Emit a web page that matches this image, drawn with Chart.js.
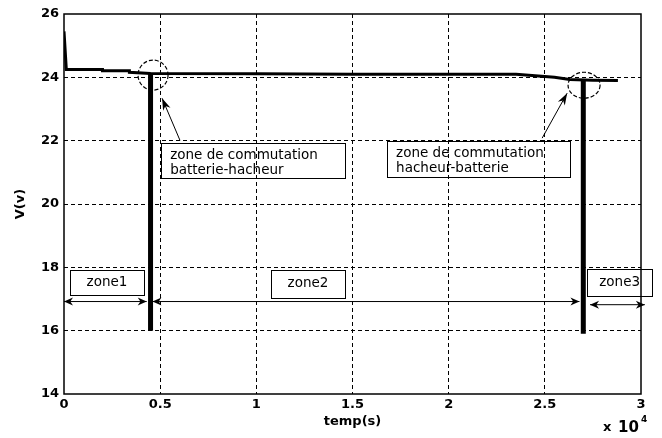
<!DOCTYPE html>
<html><head><meta charset="utf-8">
<script src="https://cdn.jsdelivr.net/npm/chart.js@4"></script>
<style>html,body{margin:0;padding:0;background:#fff}</style>
</head><body>
<canvas id="c" width="662" height="438"></canvas>
<script>
// ---- data ----
const timeX    = [0, 0.012, 0.2, 0.2, 0.34, 0.34, 0.45, 1.0, 1.5, 2.0, 2.35, 2.45, 2.55, 2.63, 2.75, 2.88];
const voltageV = [25.45, 24.25, 24.25, 24.21, 24.21, 24.16, 24.12, 24.11, 24.1, 24.1, 24.1, 24.05, 24.0, 23.93, 23.91, 23.9];

const switchTimes  = [0.45, 2.70];
const switchTop    = [24.12, 23.9];
const switchBottom = [16.0, 15.9];

const zoneNames = ['zone1', 'zone2', 'zone3'];
const zoneStart = [0, 0.46, 2.735];
const zoneEnd   = [0.43, 2.68, 3.02];
const zoneLevel = [16.92, 16.92, 16.82];

const xTicks = [0, 0.5, 1, 1.5, 2, 2.5, 3];
const yTicks = [14, 16, 18, 20, 22, 24, 26];

const noteLinesA = ['zone de commutation', 'batterie-hacheur'];
const noteLinesB = ['zone de commutation', 'hacheur-batterie'];

// annotation anchors (data coordinates)
const circleX = [0.463, 2.704];
const circleY = [24.07, 23.75];
const arrowFromX = [0.603, 2.486];
const arrowFromY = [22.01, 22.08];
const arrowToX   = [0.51, 2.616];
const arrowToY   = [23.34, 23.5];
const noteBoxX0 = [0.505, 1.68];
const noteBoxX1 = [1.461, 2.631];
const noteBoxY0 = [21.92, 21.98];
const noteBoxY1 = [20.81, 20.84];
const zoneBoxX0 = [0.031, 1.076, 2.72];
const zoneBoxX1 = [0.416, 1.461, 3.058];
const zoneBoxY0 = [17.93, 17.93, 17.96];
const zoneBoxY1 = [17.14, 17.04, 17.11];

// ---- datasets ----
const pts = (xs, ys) => xs.map((v, i) => ({x: v, y: ys[i]}));
const datasets = [
  {data: pts(timeX, voltageV), borderColor: '#000', borderWidth: 3, pointRadius: 0, tension: 0}
];
switchTimes.forEach((t, i) => datasets.push({
  data: [{x: t, y: switchTop[i]}, {x: t, y: switchBottom[i]}],
  borderColor: '#000', borderWidth: 5, pointRadius: 0, borderCapStyle: 'butt'
}));
zoneNames.forEach((n, i) => datasets.push({
  data: [{x: zoneStart[i], y: zoneLevel[i]}, {x: zoneEnd[i], y: zoneLevel[i]}],
  borderColor: '#000', borderWidth: 1, pointRadius: 0, clip: false
}));

function head(ctx, x1, y1, x0, y0, len, w) {
  const a = Math.atan2(y1 - y0, x1 - x0);
  const c = Math.cos(a), s = Math.sin(a);
  ctx.beginPath();
  ctx.moveTo(x1, y1);
  ctx.lineTo(x1 - len * c + (w / 2) * s, y1 - len * s - (w / 2) * c);
  ctx.lineTo(x1 - len * 0.7 * c, y1 - len * 0.7 * s);
  ctx.lineTo(x1 - len * c - (w / 2) * s, y1 - len * s + (w / 2) * c);
  ctx.closePath();
  ctx.fill();
}

const overlay = {
  id: 'overlay',
  afterDatasetsDraw(chart) {
    const {ctx, chartArea: a, scales: {x, y}} = chart;
    const px = v => x.getPixelForValue(v), py = v => y.getPixelForValue(v);
    ctx.save();
    ctx.fillStyle = '#000'; ctx.strokeStyle = '#000'; ctx.setLineDash([]);
    // frame
    ctx.lineWidth = 1.5;
    ctx.strokeRect(a.left, a.top, a.right - a.left, a.bottom - a.top);
    // circles
    ctx.lineWidth = 1.2; ctx.setLineDash([4, 2]);
    const rads = [[15, 15], [16, 13]];
    circleX.forEach((cx, i) => {
      ctx.beginPath();
      ctx.ellipse(px(cx), py(circleY[i]), rads[i][0], rads[i][1], 0, 0, Math.PI * 2);
      ctx.stroke();
    });
    ctx.setLineDash([]);
    ctx.lineWidth = 1;
    // pointer arrows
    arrowFromX.forEach((fx, i) => {
      const x0 = px(fx), y0 = py(arrowFromY[i]), x1 = px(arrowToX[i]), y1 = py(arrowToY[i]);
      ctx.beginPath(); ctx.moveTo(x0, y0); ctx.lineTo(x1, y1); ctx.stroke();
      head(ctx, x1, y1, x0, y0, 12, 8);
    });
    // zone arrowheads
    zoneNames.forEach((n, i) => {
      const x0 = px(zoneStart[i]), x1 = px(zoneEnd[i]), yy = py(zoneLevel[i]);
      head(ctx, x0, yy, x0 + 10, yy, 9, 8);
      head(ctx, x1, yy, x1 - 10, yy, 9, 8);
    });
    // note boxes
    ctx.font = '13.5px "DejaVu Sans"';
    ctx.textBaseline = 'middle'; ctx.textAlign = 'left';
    [noteLinesA, noteLinesB].forEach((lines, i) => {
      const bx0 = px(noteBoxX0[i]), bx1 = px(noteBoxX1[i]), by0 = py(noteBoxY0[i]), by1 = py(noteBoxY1[i]);
      ctx.strokeRect(Math.round(bx0) + 0.5, Math.round(by0) + 0.5, Math.round(bx1 - bx0), Math.round(by1 - by0));
      lines.forEach((t, k) => ctx.fillText(t, bx0 + 9, by0 + 12 + k * 15));
    });
    // zone boxes
    ctx.textAlign = 'center';
    zoneNames.forEach((n, i) => {
      const bx0 = px(zoneBoxX0[i]), bx1 = px(zoneBoxX1[i]), by0 = py(zoneBoxY0[i]), by1 = py(zoneBoxY1[i]);
      ctx.strokeRect(Math.round(bx0) + 0.5, Math.round(by0) + 0.5, Math.round(bx1 - bx0), Math.round(by1 - by0));
      ctx.fillText(n, (bx0 + bx1) / 2, (by0 + by1) / 2);
    });
    // exponent label
    ctx.textAlign = 'left';
    ctx.font = 'bold 13px "DejaVu Sans"';
    ctx.fillText('x', 603, 428);
    ctx.font = 'bold 15px "DejaVu Sans"';
    ctx.fillText('10', 618, 428);
    ctx.font = 'bold 9px "DejaVu Sans"';
    ctx.fillText('4', 641, 420);
    ctx.restore();
  }
};

const tickFont = {family: 'DejaVu Sans', weight: 'bold', size: 13};
const edgeColor = (ticks) => (c) => (c.index === 0 || c.index === ticks.length - 1) ? 'rgba(0,0,0,0)' : '#000';

new Chart(document.getElementById('c'), {
  type: 'line',
  data: {datasets},
  options: {
    responsive: false, animation: false, events: [],
    layout: {padding: {top: 14, right: 21, left: 0, bottom: 0}},
    plugins: {legend: {display: false}, tooltip: {enabled: false}},
    scales: {
      x: {
        type: 'linear', min: 0, max: 3,
        afterBuildTicks: s => { s.ticks = xTicks.map(v => ({value: v})); },
        afterFit: s => { s.height = 44; s.paddingLeft = 0; s.paddingRight = 0; s.paddingTop = 0; s.paddingBottom = 0; },
        ticks: {font: tickFont, color: '#000', padding: 3, maxRotation: 0, autoSkip: false, callback: v => String(v)},
        grid: {color: edgeColor(xTicks), lineWidth: 1, drawTicks: false},
        border: {display: false, dash: [4, 3]},
        title: {display: true, text: 'temp(s)', color: '#000', font: tickFont, padding: {top: 0, bottom: 9}}
      },
      y: {
        type: 'linear', min: 14, max: 26,
        afterBuildTicks: s => { s.ticks = yTicks.map(v => ({value: v})); },
        afterFit: s => { s.width = 64; s.paddingLeft = 0; s.paddingRight = 0; s.paddingTop = 0; s.paddingBottom = 0; },
        ticks: {font: tickFont, color: '#000', padding: 5, autoSkip: false, callback: v => String(v)},
        grid: {color: edgeColor(yTicks), lineWidth: 1, drawTicks: false},
        border: {display: false, dash: [4, 3]},
        title: {display: true, text: 'V(v)', color: '#000', font: tickFont, padding: {top: 13, bottom: 0}}
      }
    }
  },
  plugins: [overlay]
});
</script>
</body></html>
